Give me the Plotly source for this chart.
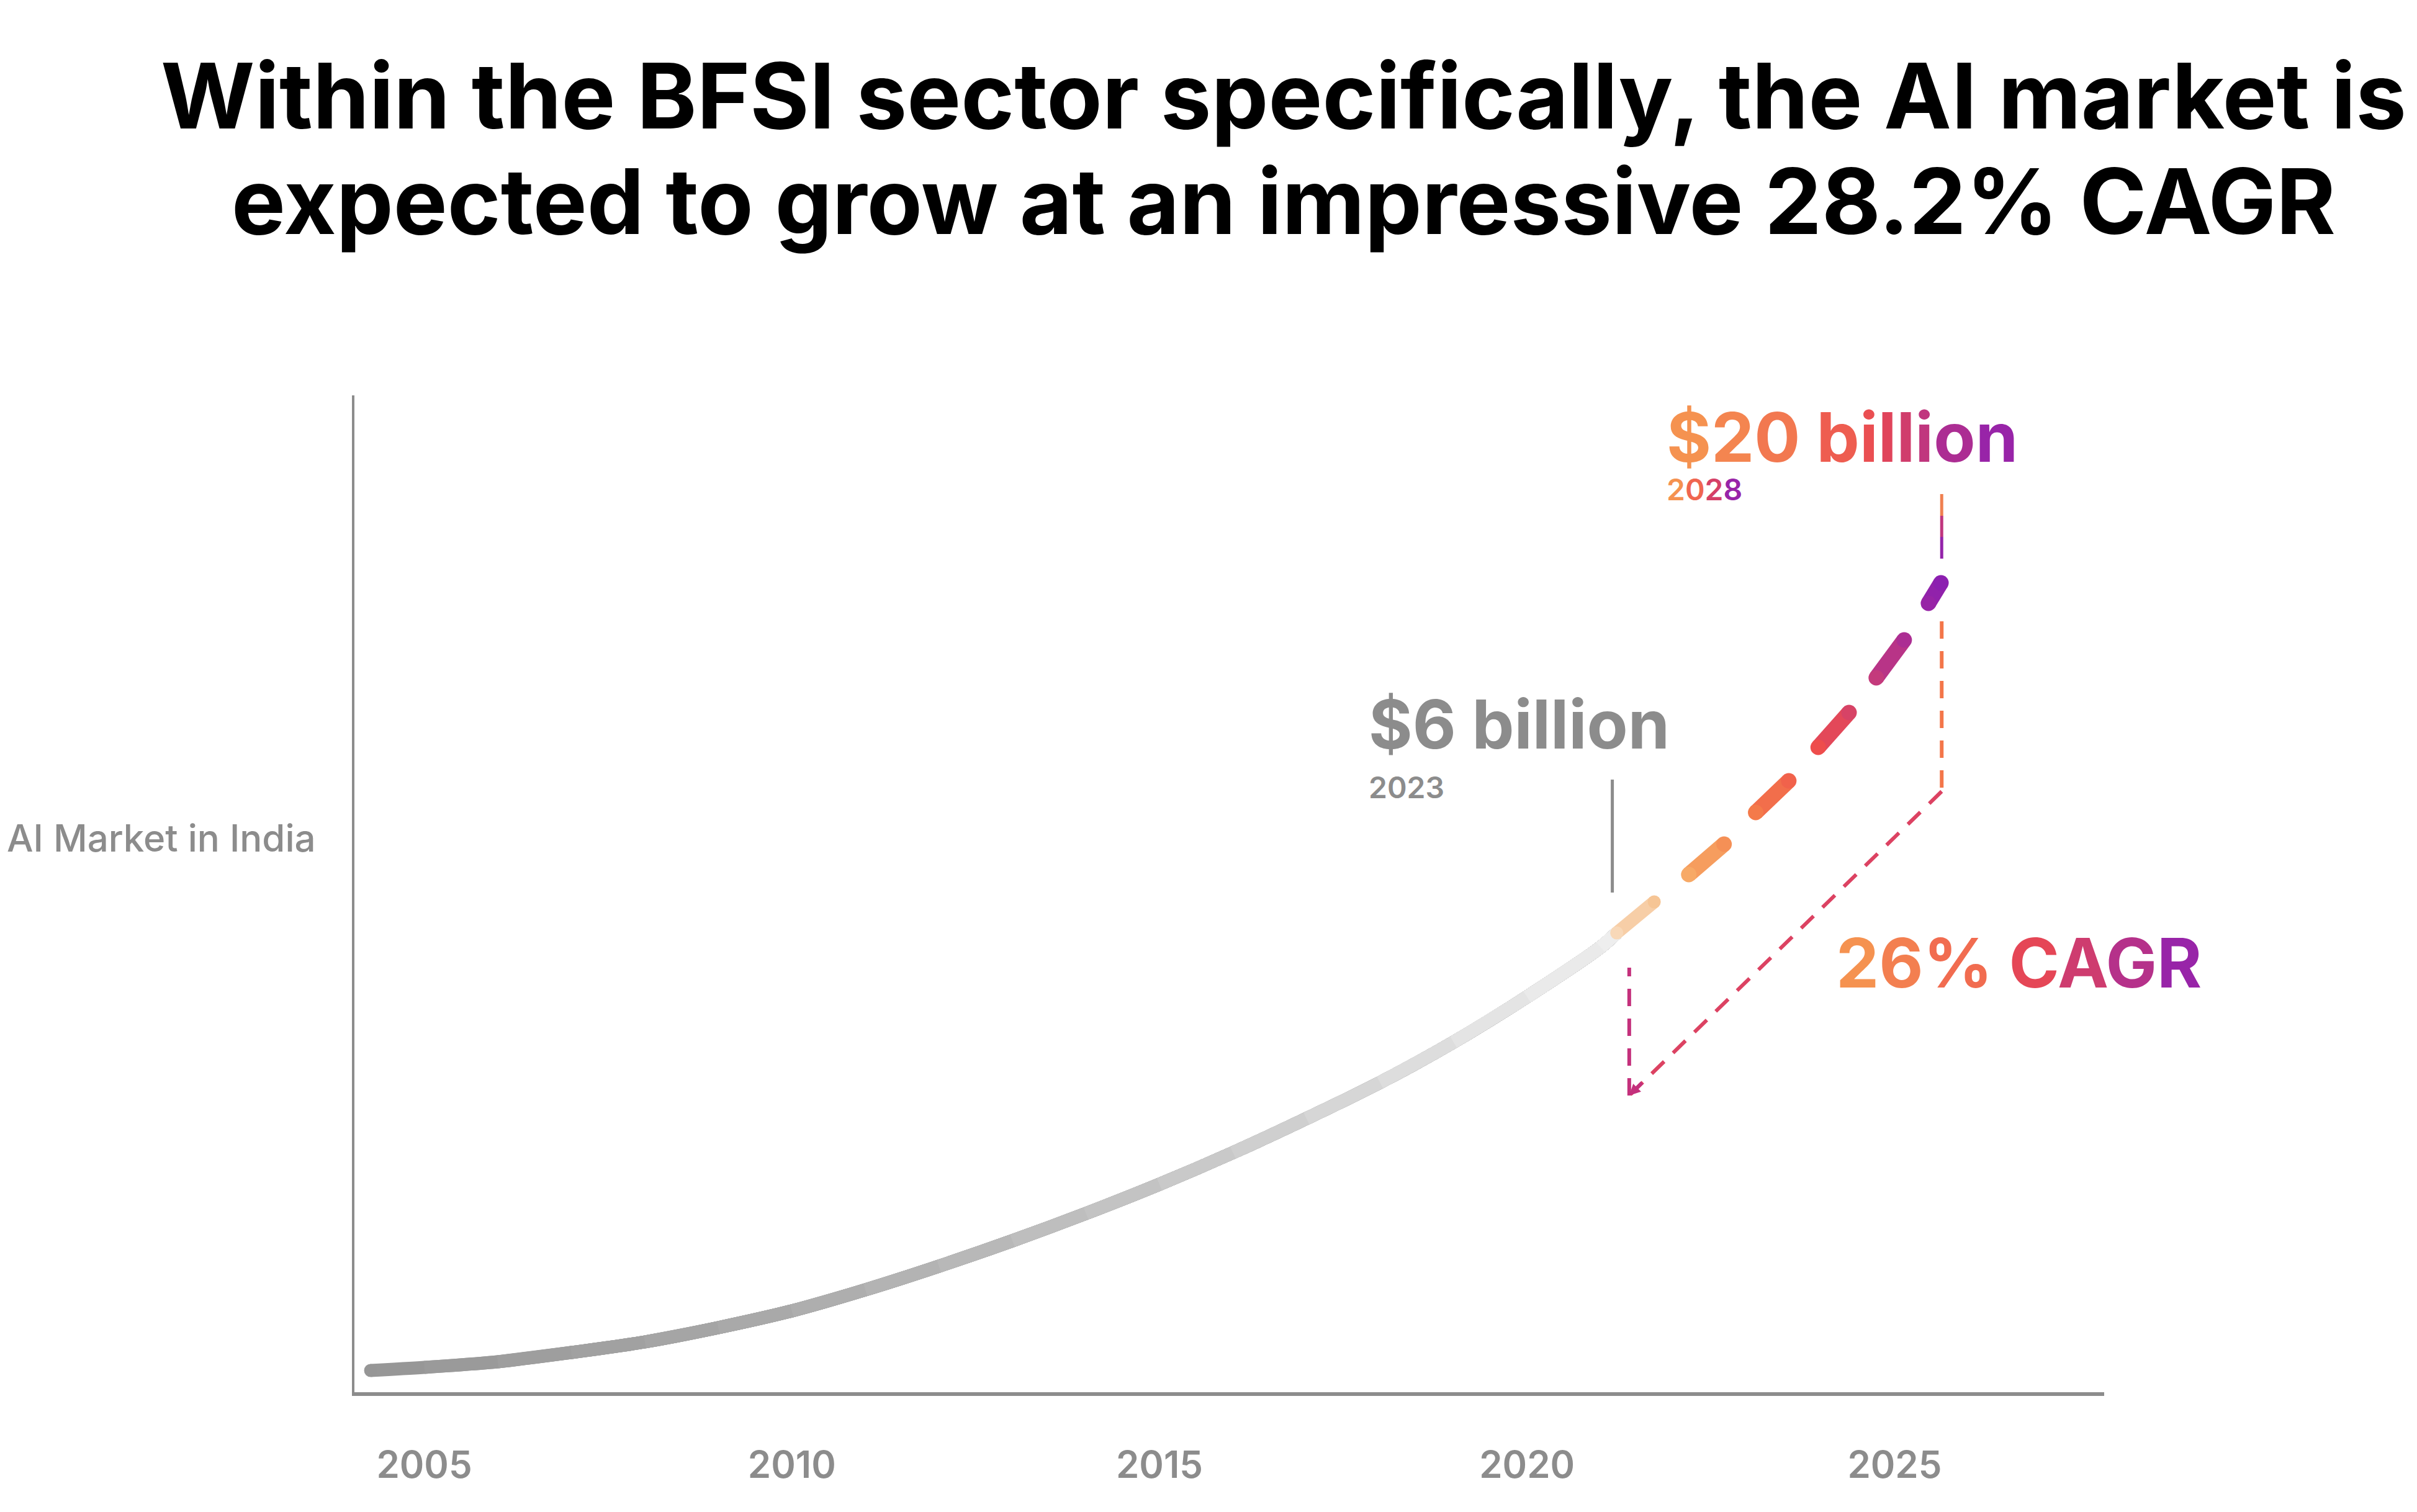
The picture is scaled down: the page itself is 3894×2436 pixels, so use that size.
"""BFSI AI market growth chart with gradient trend and CAGR bracket."""

import plotly.graph_objects as go
from plotly.colors import sample_colorscale

# Data (y is a relative market index, the chart has no y ticks)
years_actual = [2004.27, 2005, 2006, 2007, 2008, 2009, 2010, 2011, 2012, 2013, 2014,
                2015, 2016, 2017, 2018, 2019, 2020, 2021, 2021.22]
market_actual = [3.5, 4.0, 4.9, 6.4, 8.1, 10.4, 13.1, 16.5, 20.3, 24.4, 28.8,
                 33.5, 38.6, 44.1, 49.9, 56.4, 63.7, 71.7, 74.0]

# Forecast drawn as dashes: each pair of points is one dash
years_forecast = [2021.22, 2021.73, 2022.2, 2022.68, 2023.11, 2023.56, 2023.96, 2024.38, 2024.75, 2025.13, 2025.46, 2025.63]
market_forecast = [74.0, 79.0, 83.4, 88.3, 93.4, 98.5, 103.9, 109.5, 115.1, 121.2, 127.1, 130.4]

tick_years = [2005, 2010, 2015, 2020, 2025]
tick_labels = ["2005", "2010", "2015", "2020", "2025"]

# CAGR bracket corners (year, index)
bracket_years = [2025.64, 2025.64, 2021.39, 2021.39]
bracket_values = [124.2, 96.8, 47.8, 68.4]

GRAY = "#8c8c8c"
FONT = "Inter"

gray_scale = [[0, "#969696"], [0.3, "#a8a8a8"], [0.55, "#bebebe"],
              [0.75, "#d2d2d2"], [0.9, "#e4e4e4"], [1, "#efefef"]]
warm_scale = [[0, "#f8d8b8"], [0.12, "#f6c494"], [0.22, "#f7aa66"], [0.42, "#f47c4a"],
              [0.62, "#ee4d4c"], [0.8, "#c43a7c"], [1, "#8c1fb0"]]
text_scale = [[0, "#f59250"], [0.35, "#f06450"], [0.55, "#e84852"], [0.8, "#c0367e"], [1, "#9824a8"]]


def color_at(scale, t):
    return sample_colorscale(scale, [min(max(t, 0), 1)])[0]


def grad_text(text, scale):
    # colour each character along a gradient
    n = max(len(text) - 1, 1)
    out = ""
    for i, ch in enumerate(text):
        out += f'<span style="color:{color_at(scale, i / n)}">{ch}</span>'
    return out


fig = go.Figure()

# Historic curve: grey gradient. Each trace starts one point later and sits on
# top of the previous one, so the spline stays smooth and the colour steps along.
a0, a1 = years_actual[0], years_actual[-1]
for i in range(len(years_actual) - 1):
    t = ((years_actual[i] + years_actual[i + 1]) / 2 - a0) / (a1 - a0)
    fig.add_trace(go.Scatter(
        x=years_actual[i:], y=market_actual[i:], mode="lines",
        line=dict(color=color_at(gray_scale, t), width=21, shape="spline", smoothing=0.8),
        hoverinfo="skip", showlegend=False))

# round cap at the start
fig.add_trace(go.Scatter(
    x=years_actual[:1], y=market_actual[:1], mode="markers",
    marker=dict(color=color_at(gray_scale, 0), size=21),
    hoverinfo="skip", showlegend=False))

# Forecast dashes, warm gradient
f0, f1 = years_forecast[0], years_forecast[-1]
for i in range(0, len(years_forecast) - 1, 2):
    xs = years_forecast[i:i + 2]
    ys = market_forecast[i:i + 2]
    ts = [(x - f0) / (f1 - f0) for x in xs]
    width = 21 if i == 0 else 25
    fig.add_trace(go.Scatter(
        x=xs, y=ys, mode="lines+markers",
        line=dict(color=color_at(warm_scale, sum(ts) / 2), width=width),
        marker=dict(color=[color_at(warm_scale, t) for t in ts], size=width),
        hoverinfo="skip", showlegend=False))

# CAGR bracket
bracket_colors = ["#f3764a", "#dc4262", "#c4307c"]
shapes = []
for i in range(3):
    shapes.append(dict(
        type="line", xref="x", yref="y",
        x0=bracket_years[i], y0=bracket_values[i],
        x1=bracket_years[i + 1], y1=bracket_values[i + 1],
        line=dict(color=bracket_colors[i], width=6, dash="28px,20px")))

# Leader lines to the callouts
shapes.append(dict(type="line", xref="x", yref="y", x0=2021.16, x1=2021.16,
                   y0=80.5, y1=98.7, line=dict(color=GRAY, width=5)))
lead_colors = ["#f08050", "#c0367e", "#9424aa"]
lead_y = [144.7, 141.2, 137.8, 134.3]
for i in range(3):
    shapes.append(dict(type="line", xref="x", yref="y", x0=2025.64, x1=2025.64,
                       y0=lead_y[i], y1=lead_y[i + 1],
                       line=dict(color=lead_colors[i], width=5)))

title_font = dict(family=FONT, size=146, color="#000000", weight=700)
annotations = [
    dict(x=0.531, xref="paper", y=1.3005, yref="paper", xanchor="center", yanchor="middle",
         text="Within the BFSI sector specifically, the AI market is",
         showarrow=False, font=title_font),
    dict(x=0.531, xref="paper", y=1.195, yref="paper", xanchor="center", yanchor="middle",
         text="expected to grow at an impressive 28.2% CAGR",
         showarrow=False, font=title_font),
    dict(x=0, xref="paper", y=88.6, yref="y", xanchor="right", yanchor="middle",
         xshift=-60, yshift=7, text="AI Market in India", showarrow=False,
         font=dict(family=FONT, size=60, color=GRAY, weight=500)),
    dict(x=2017.92, y=106.7, xanchor="left", yanchor="middle", text="$6 billion",
         xshift=-11, yshift=10, showarrow=False,
         font=dict(family=FONT, size=108, color=GRAY, weight=700)),
    dict(x=2017.92, y=96.7, xanchor="left", yanchor="middle", text="2023",
         xshift=-11, yshift=8, showarrow=False,
         font=dict(family=FONT, size=48, color=GRAY, weight=600)),
    dict(x=2021.98, y=152.9, xanchor="left", yanchor="middle",
         text=grad_text("$20 billion", text_scale), xshift=-12, yshift=10,
         showarrow=False, font=dict(family=FONT, size=110, weight=700)),
    dict(x=2021.98, y=144.9, xanchor="left", yanchor="middle",
         text=grad_text("2028", text_scale), xshift=-12, yshift=6,
         showarrow=False, font=dict(family=FONT, size=48, weight=600)),
    dict(x=2024.29, y=68.2, xanchor="left", yanchor="middle",
         text=grad_text("26% CAGR", text_scale), xshift=-12, yshift=10,
         showarrow=False, font=dict(family=FONT, size=110, weight=700)),
    # arrow tip at the lower corner of the bracket
    dict(x=bracket_years[2], y=bracket_values[2], ax=22, ay=-22, text="",
         showarrow=True, arrowhead=2, arrowsize=0.6, arrowwidth=6,
         arrowcolor=bracket_colors[2], standoff=0),
]

fig.update_layout(
    width=3894, height=2436,
    paper_bgcolor="white", plot_bgcolor="white",
    margin=dict(l=563, r=512, t=629, b=201),
    xaxis=dict(range=[2004.05, 2027.85], tickvals=tick_years, ticktext=tick_labels,
               showline=True, linecolor=GRAY, linewidth=6, showgrid=False,
               zeroline=False, ticks="", ticklabelstandoff=60,
               tickfont=dict(family=FONT, size=60, color=GRAY, weight=600)),
    yaxis=dict(range=[0, 160.6], showline=True, linecolor=GRAY, linewidth=4,
               showgrid=False, zeroline=False, showticklabels=False, ticks=""),
    shapes=shapes,
    annotations=annotations,
)

fig.write_html("out.html")
